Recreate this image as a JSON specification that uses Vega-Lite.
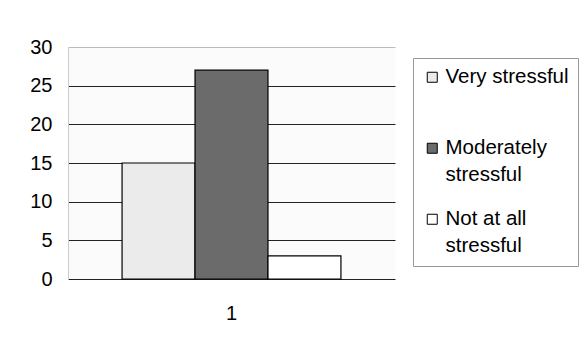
{
  "$schema": "https://vega.github.io/schema/vega-lite/v6.json",
  "width": 327,
  "height": 232,
  "autosize": {"type": "none"},
  "padding": {"left": 68, "top": 47, "right": 191, "bottom": 78},
  "background": "white",
  "config": {
    "font": "Liberation Sans",
    "view": {"stroke": null, "fill": "#fbfbfb"}
  },
  "data": {
    "values": [
      {"group": "1", "category": "Very stressful", "value": 15},
      {"group": "1", "category": "Moderately stressful", "value": 27},
      {"group": "1", "category": "Not at all stressful", "value": 3}
    ]
  },
  "mark": {"type": "bar", "stroke": "black", "strokeWidth": 1.2},
  "encoding": {
    "x": {
      "field": "group",
      "type": "nominal",
      "scale": {"paddingInner": 0, "paddingOuter": 0.247},
      "axis": {
        "title": null,
        "labelAngle": 0,
        "labelFontSize": 20,
        "labelColor": "black",
        "labelPadding": 24,
        "ticks": false,
        "domain": false
      }
    },
    "xOffset": {
      "field": "category",
      "type": "nominal",
      "sort": ["Very stressful", "Moderately stressful", "Not at all stressful"],
      "scale": {"paddingInner": 0, "paddingOuter": 0}
    },
    "y": {
      "field": "value",
      "type": "quantitative",
      "scale": {"domain": [0, 30]},
      "axis": {
        "title": null,
        "values": [0, 5, 10, 15, 20, 25, 30],
        "labelFontSize": 20,
        "labelColor": "black",
        "labelPadding": 16,
        "ticks": false,
        "domain": true,
        "domainColor": "#cccccc",
        "gridColor": {"condition": {"test": "datum.value == 30", "value": "#bbbbbb"}, "value": "#222222"},
        "gridWidth": 1.2
      }
    },
    "color": {
      "field": "category",
      "type": "nominal",
      "sort": ["Very stressful", "Moderately stressful", "Not at all stressful"],
      "scale": {
        "domain": ["Very stressful", "Moderately stressful", "Not at all stressful"],
        "range": ["#ebebeb", "#6b6b6b", "#ffffff"]
      },
      "legend": {
        "title": null,
        "orient": "none",
        "legendX": 345,
        "legendY": 11,
        "direction": "vertical",
        "strokeColor": "#999999",
        "fillColor": "white",
        "padding": 9,
        "symbolType": "square",
        "symbolSize": 100,
        "symbolStrokeColor": "black",
        "symbolStrokeWidth": 1,
        "labelFontSize": 20.5,
        "labelColor": "black",
        "labelOffset": 3,
        "labelLimit": 200,
        "rowPadding": 23,
        "labelExpr": "datum.label == 'Moderately stressful' ? ['Moderately', 'stressful'] : datum.label == 'Not at all stressful' ? ['Not at all', 'stressful'] : [datum.label, ' ']",
        "encode": {
          "labels": {"update": {"lineHeight": {"value": 27}}}
        }
      }
    }
  }
}
